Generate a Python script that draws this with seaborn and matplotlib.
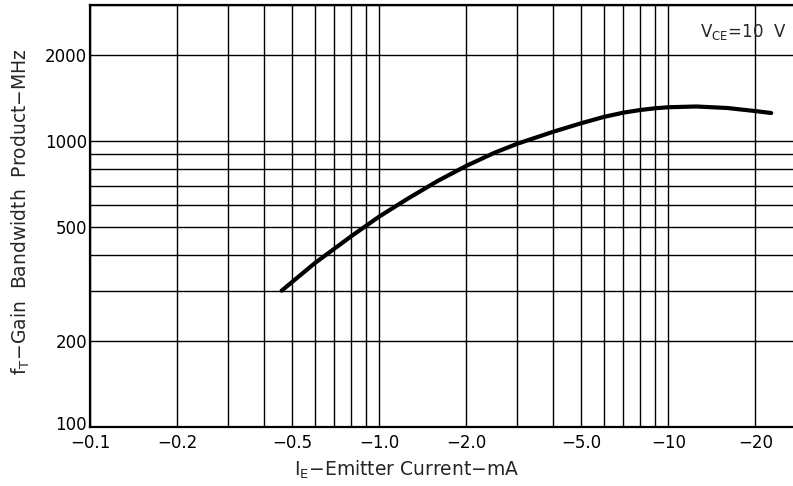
import matplotlib
matplotlib.use("Agg")
import matplotlib.pyplot as plt
import matplotlib.ticker as mticker
import matplotlib.transforms as mtransforms
import pandas as pd
import seaborn as sns

# Emitter current magnitude (mA) and gain-bandwidth product (MHz)
emitter_current = [0.46, 0.6, 0.8, 1.0, 1.25, 1.6, 2.0, 2.5, 3.0, 4.0,
                   5.0, 6.0, 7.0, 8.0, 9.0, 10.0, 12.5, 16.0, 20.0, 22.7]
ft_mhz = [300, 375, 465, 545, 628, 728, 820, 911, 980, 1080,
          1157, 1218, 1260, 1287, 1305, 1316, 1324, 1308, 1276, 1256]

x_ticks = [0.1, 0.2, 0.5, 1.0, 2.0, 5.0, 10, 20]
x_tick_labels = ["\u22120.1", "\u22120.2", "\u22120.5", "\u22121.0",
                 "\u22122.0", "\u22125.0", "\u221210", "\u221220"]
y_ticks = [100, 200, 500, 1000, 2000]
y_tick_labels = ["100", "200", "500", "1000", "2000"]

sns.set_style("white")
plt.rcParams["font.family"] = ["DejaVu Sans"]

df = pd.DataFrame({"ie": emitter_current, "ft": ft_mhz})

fig = plt.figure(figsize=(7.93, 4.86), dpi=100)
ax = fig.add_axes([90 / 793, 59 / 486, 703 / 793, 422 / 486])

sns.lineplot(data=df, x="ie", y="ft", color="black", linewidth=3, ax=ax)

ax.set_xscale("log")
ax.set_yscale("log")
ax.set_xlim(0.1, 27)
ax.set_ylim(100, 3000)

# full log grid (every 1..9 in each decade)
ax.xaxis.set_major_locator(mticker.FixedLocator(x_ticks))
ax.xaxis.set_minor_locator(mticker.LogLocator(base=10, subs=range(1, 10)))
ax.yaxis.set_major_locator(mticker.FixedLocator(y_ticks))
ax.yaxis.set_minor_locator(mticker.LogLocator(base=10, subs=range(1, 10)))
ax.xaxis.set_minor_formatter(mticker.NullFormatter())
ax.yaxis.set_minor_formatter(mticker.NullFormatter())
ax.set_xticklabels(x_tick_labels)
ax.set_yticklabels(y_tick_labels)
ax.grid(True, which="both", color="black", linewidth=1.0)
ax.set_axisbelow(True)

ax.tick_params(axis="both", which="both", length=0, labelsize=12,
               colors="black")
ax.tick_params(axis="x", pad=5)
ax.tick_params(axis="y", pad=2)

# the "100" label sits a little above the bottom line
lbl = ax.get_yticklabels()[0]
lbl.set_transform(lbl.get_transform() +
                  mtransforms.ScaledTranslation(0, 4 / 100, fig.dpi_scale_trans))

for side in ["left", "bottom", "top"]:
    ax.spines[side].set_color("black")
    ax.spines[side].set_linewidth(1.6)
ax.spines["right"].set_visible(False)

ax.set_xlabel("I$_\\mathregular{E}$\u2212Emitter Current\u2212mA", fontsize=13.5)
ax.set_ylabel("f$_\\mathregular{T}$\u2212Gain  Bandwidth  Product\u2212MHz",
              fontsize=13.5)
ax.xaxis.set_label_coords(0.45, -0.075)
ax.yaxis.set_label_coords(-0.083, 0.51)

ax.text(0.99, 0.935, "V$_\\mathregular{CE}$=10  V", transform=ax.transAxes,
        ha="right", va="center", fontsize=12)

fig.savefig("out.png", dpi=100)
plt.close(fig)
